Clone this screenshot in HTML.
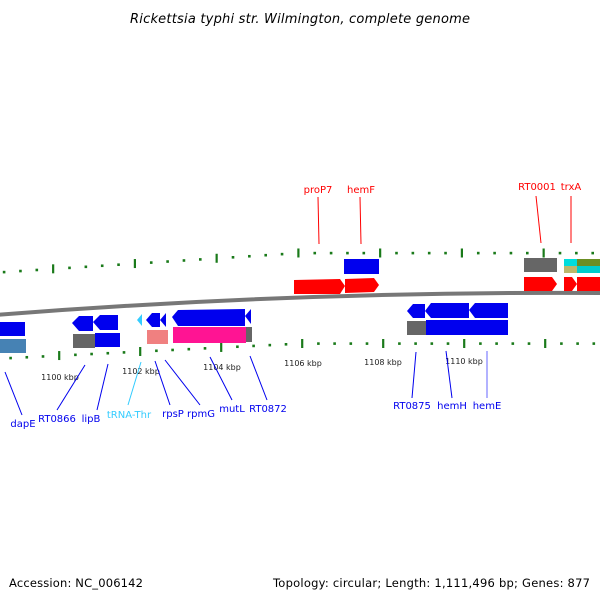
<!DOCTYPE html>
<html><head><meta charset="utf-8"><style>
html,body{margin:0;padding:0;background:#fff}
svg{display:block;font-family:"DejaVu Sans","Liberation Sans",sans-serif}
</style></head><body>
<svg width="600" height="600" viewBox="0 0 600 600" xmlns="http://www.w3.org/2000/svg">
<text x="300" y="23" font-size="13" font-style="italic" text-anchor="middle" fill="#000" textLength="340">Rickettsia typhi str. Wilmington, complete genome</text>

<path d="M-5,315 Q300,291 605,293" stroke="#777" stroke-width="4" fill="none"/>

<g id="outer"></g>
<g id="inner"></g>

<rect x="0" y="322" width="25" height="14" fill="#0000ee"/>
<rect x="0" y="339" width="26" height="14" fill="#4682b4"/>
<polygon points="72,323 79,316 93,316 93,331 79,331" fill="#0000ee"/>
<polygon points="93,322 100,315 118,315 118,330 100,330" fill="#0000ee"/>
<rect x="73" y="334" width="22" height="14" fill="#666"/>
<rect x="95" y="333" width="25" height="14" fill="#0000ee"/>
<polygon points="137,320 142,314 142,326" fill="#33ccff"/>
<polygon points="146,320 152,313 160,313 160,327 152,327" fill="#0000ee"/>
<polygon points="160,320 166,313 166,327" fill="#0000ee"/>
<rect x="147" y="330" width="21" height="14" fill="#f08080"/>
<polygon points="172,317 178,310 245,309 245,326 178,326" fill="#0000ee"/>
<polygon points="245,316 251,309 251,324" fill="#0000ee"/>
<rect x="173" y="327" width="73" height="16" fill="#ff1493"/>
<rect x="246" y="327" width="6" height="15" fill="#666"/>

<polygon points="294,280 340,279 345,286 340,294 294,294" fill="#ff0000"/>
<polygon points="345,279 374,278 379,285 374,292 345,293" fill="#ff0000"/>
<rect x="344" y="259" width="35" height="15" fill="#0000ee"/>
<rect x="524" y="258" width="33" height="14" fill="#666"/>
<polygon points="524,277 552,277 557,284 552,291 524,291" fill="#ff0000"/>
<rect x="564" y="259" width="13" height="7" fill="#00dddd"/>
<rect x="577" y="259" width="23" height="7" fill="#6b8e23"/>
<rect x="564" y="266" width="13" height="7" fill="#bdb76b"/>
<rect x="577" y="266" width="23" height="7" fill="#00cccc"/>
<polygon points="564,277 572,277 577,284 572,291 564,291" fill="#ff0000"/>
<rect x="577" y="277" width="23" height="14" fill="#ff0000"/>
<polygon points="407,311 413,304 425,304 425,318 413,318" fill="#0000ee"/>
<polygon points="425,311 431,303 469,303 469,318 431,318" fill="#0000ee"/>
<polygon points="469,310 475,303 508,303 508,318 475,318" fill="#0000ee"/>
<rect x="407" y="321" width="19" height="14" fill="#666"/>
<rect x="426" y="320" width="82" height="15" fill="#0000ee"/>

<g font-size="8" fill="#222" text-anchor="middle">
<text x="60" y="380">1100 kbp</text>
<text x="141" y="374">1102 kbp</text>
<text x="222" y="370">1104 kbp</text>
<text x="303" y="366">1106 kbp</text>
<text x="383" y="365">1108 kbp</text>
<text x="464" y="364">1110 kbp</text>
</g>

<g stroke="#ff0000" stroke-width="1">
<line x1="318" y1="197" x2="319" y2="244"/>
<line x1="360" y1="197" x2="361" y2="244"/>
<line x1="536" y1="196" x2="541" y2="243"/>
<line x1="571" y1="196" x2="571" y2="243"/>
</g>
<g font-size="10" fill="#ff0000" text-anchor="middle">
<text x="318" y="193">proP7</text>
<text x="361" y="193">hemF</text>
<text x="537" y="190">RT0001</text>
<text x="571" y="190">trxA</text>
</g>

<g stroke="#0000ee" stroke-width="1">
<line x1="5" y1="372" x2="22" y2="415"/>
<line x1="85" y1="365" x2="57" y2="410"/>
<line x1="108" y1="364" x2="97" y2="410"/>
<line x1="155" y1="361" x2="170" y2="405"/>
<line x1="165" y1="360" x2="200" y2="405"/>
<line x1="210" y1="357" x2="232" y2="400"/>
<line x1="250" y1="356" x2="267" y2="400"/>
<line x1="416" y1="352" x2="412" y2="398"/>
<line x1="446" y1="351" x2="452" y2="398"/>
<line x1="487" y1="351" x2="487" y2="398" stroke="#6666ff"/>
</g>
<line x1="141" y1="362" x2="128" y2="405" stroke="#33ccff"/>
<g font-size="10" fill="#0000ee" text-anchor="middle">
<text x="23" y="427">dapE</text>
<text x="57" y="422">RT0866</text>
<text x="91" y="422">lipB</text>
<text x="129" y="418" fill="#33ccff">tRNA-Thr</text>
<text x="173" y="417">rpsP</text>
<text x="201" y="417">rpmG</text>
<text x="232" y="412">mutL</text>
<text x="268" y="412">RT0872</text>
<text x="412" y="409">RT0875</text>
<text x="452" y="409">hemH</text>
<text x="487" y="409">hemE</text>
</g>

<g font-size="11.5" fill="#000">
<text x="9" y="587" textLength="134">Accession: NC_006142</text>
<text x="273" y="587" textLength="317">Topology: circular; Length: 1,111,496 bp; Genes: 877</text>
</g>
<script>
(function(){
var ns="http://www.w3.org/2000/svg";
function add(g,x,y,big){var r=document.createElementNS(ns,"rect");
 if(big){r.setAttribute("x",x-1);r.setAttribute("y",y-4.5);r.setAttribute("width",2.2);r.setAttribute("height",9);}
 else{r.setAttribute("x",x-1.2);r.setAttribute("y",y-1.2);r.setAttribute("width",2.6);r.setAttribute("height",2.6);}
 r.setAttribute("fill","#1a7a1a");g.appendChild(r);}
var o=document.getElementById("outer"),n=document.getElementById("inner");
for(var i=0;i<38;i++){var x=4+i*16.35;var y=x<300?272-(x-4)*19/294:253;
 add(o,x,y,(i%5)==3);}
for(var i=0;i<38;i++){var x=10.5+i*16.2;var y=x<290?358-(x-10)*14/280:343.5;
 add(n,x,y,(i%5)==3);}
})();
</script>
</svg>
</body></html>
